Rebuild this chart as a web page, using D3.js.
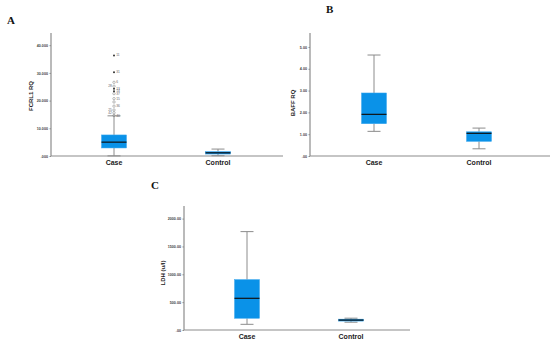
<!DOCTYPE html>
<html><head><meta charset="utf-8">
<script src="https://cdn.jsdelivr.net/npm/d3@7"></script>
<style>body{margin:0;background:#fff}svg{display:block}</style>
</head><body>
<svg id="c" width="550" height="345"></svg>
<script>
const categories = ["Case", "Control"];
// box stats: [min, q1, median, q3, max]
const fcrlStats = [[0.05, 2.9, 5.0, 7.6, 14.5], [0.1, 0.7, 1.15, 1.6, 2.5]];
const fcrlOutliers = [
  {v: 36.3, label: "11", star: true}, {v: 30.2, label: "31", star: true},
  {v: 26.6, label: "6"}, {v: 25.2, label: "28", left: true}, {v: 24.3, label: "13", star: true},
  {v: 23.4, label: "14", star: true}, {v: 22.5, label: "37"}, {v: 20.7, label: "15"},
  {v: 19.5, label: ""}, {v: 18.0, label: "36"}, {v: 16.6, label: "25", left: true},
  {v: 15.6, label: "42", left: true}, {v: 14.6, label: "40"}
];
const baffStats = [[1.13, 1.48, 1.91, 2.89, 4.63], [0.33, 0.67, 1.04, 1.11, 1.28]];
const ldhStats = [[102, 210, 569, 905, 1766], [140, 160, 178, 195, 212]];
const fcrlTicks = [0, 10, 20, 30, 40];
const baffTicks = [0, 1, 2, 3, 4, 5];
const ldhTicks = [0, 500, 1000, 1500, 2000];

const svg = d3.select("#c");
const BLUE = "#0a92e8", GRAY = "#8c8c8c";
const FONT = "Liberation Sans, Arial, sans-serif";

function panel(o) {
  const g = svg.append("g");
  const y = d3.scaleLinear().domain([0, o.ymax]).range([o.bottom, o.top]);
  const x = d3.scalePoint().domain(categories).range([o.left + o.c0, o.left + o.c1]);
  const ya = d3.axisLeft(y).tickValues(o.ticks).tickSize(1.5).tickPadding(1.5).tickFormat(d => o.fmt(d).replace(/^0\./, "."));
  const yg = g.append("g").attr("transform", `translate(${o.left},0)`).call(ya);
  yg.select(".domain").attr("stroke", GRAY).attr("stroke-width", 1.2).attr("d", `M0,${o.top}V${o.bottom}`);
  yg.selectAll(".tick line").attr("stroke", GRAY);
  yg.selectAll(".tick text").attr("font-family", FONT).attr("font-size", 3.7).attr("font-weight", "bold").attr("fill", "#444");
  g.append("line").attr("x1", o.left).attr("x2", o.right).attr("y1", o.bottom).attr("y2", o.bottom).attr("stroke", GRAY).attr("stroke-width", 1.2);
  g.selectAll("text.cat").data(categories).join("text").attr("class", "cat")
    .attr("x", d => x(d)).attr("y", o.bottom + 9).attr("text-anchor", "middle")
    .attr("font-family", FONT).attr("font-size", 7).attr("font-weight", "bold").attr("fill", "#222").text(d => d);
  g.append("text").attr("transform", `translate(${o.labX},${o.labY}) rotate(-90)`).attr("text-anchor", "middle")
    .attr("font-family", FONT).attr("font-size", 6).attr("font-weight", "bold").attr("fill", "#222").text(o.ylabel);
  const bw = 25, cw = 13;
  o.stats.forEach((s, i) => {
    const cx = x(categories[i]);
    const [mn, q1, md, q3, mx] = s;
    g.append("line").attr("x1", cx).attr("x2", cx).attr("y1", y(mx)).attr("y2", y(q3)).attr("stroke", GRAY).attr("stroke-width", 1);
    g.append("line").attr("x1", cx).attr("x2", cx).attr("y1", y(q1)).attr("y2", y(mn)).attr("stroke", GRAY).attr("stroke-width", 1);
    [mn, mx].forEach(v => g.append("line").attr("x1", cx - cw / 2).attr("x2", cx + cw / 2).attr("y1", y(v)).attr("y2", y(v)).attr("stroke", GRAY).attr("stroke-width", 1));
    g.append("rect").attr("x", cx - bw / 2).attr("width", bw).attr("y", y(q3)).attr("height", Math.max(1, y(q1) - y(q3)))
      .attr("fill", BLUE).attr("stroke", "#3aa6ee").attr("stroke-width", 0.5);
    g.append("line").attr("x1", cx - bw / 2).attr("x2", cx + bw / 2).attr("y1", y(md)).attr("y2", y(md)).attr("stroke", "#111").attr("stroke-width", 1.2);
  });
  if (o.outliers) {
    const cx = x(categories[0]);
    o.outliers.forEach(p => {
      if (p.star) g.append("circle").attr("cx", cx).attr("cy", y(p.v)).attr("r", 1).attr("fill", "#333");
      else g.append("circle").attr("cx", cx).attr("cy", y(p.v)).attr("r", 1.2).attr("fill", "none").attr("stroke", "#777").attr("stroke-width", 0.5);
      if (p.label) g.append("text").attr("x", p.left ? cx - 2.2 : cx + 2.2).attr("y", y(p.v)).attr("dy", "0.3em")
        .attr("text-anchor", p.left ? "end" : "start").attr("font-family", FONT)
        .attr("font-size", 3.3).attr("fill", "#666").text(p.label);
    });
  }
  g.append("text").attr("x", o.letX).attr("y", o.letY).attr("font-family", "Liberation Serif, Times New Roman, serif")
    .attr("font-size", 11).attr("font-weight", "bold").attr("fill", "#111").text(o.letter);
}

panel({letter: "A", letX: 7, letY: 24, left: 51, right: 283, top: 33, bottom: 156, ymax: 44.4,
  c0: 63, c1: 167, ticks: fcrlTicks, fmt: d3.format(".3f"), stats: fcrlStats, outliers: fcrlOutliers,
  ylabel: "FCRL1 RQ", labX: 32.5, labY: 96});
panel({letter: "B", letX: 326, letY: 13, left: 310, right: 550, top: 33, bottom: 156, ymax: 5.64,
  c0: 64, c1: 169, ticks: baffTicks, fmt: d3.format(".2f"), stats: baffStats,
  ylabel: "BAFF RQ", labX: 295, labY: 103});
panel({letter: "C", letX: 151, letY: 189, left: 184, right: 410, top: 206, bottom: 330, ymax: 2226,
  c0: 63, c1: 167, ticks: ldhTicks, fmt: d3.format(".2f"), stats: ldhStats,
  ylabel: "LDH (u/l)", labX: 165, labY: 273});
</script>
</body></html>
